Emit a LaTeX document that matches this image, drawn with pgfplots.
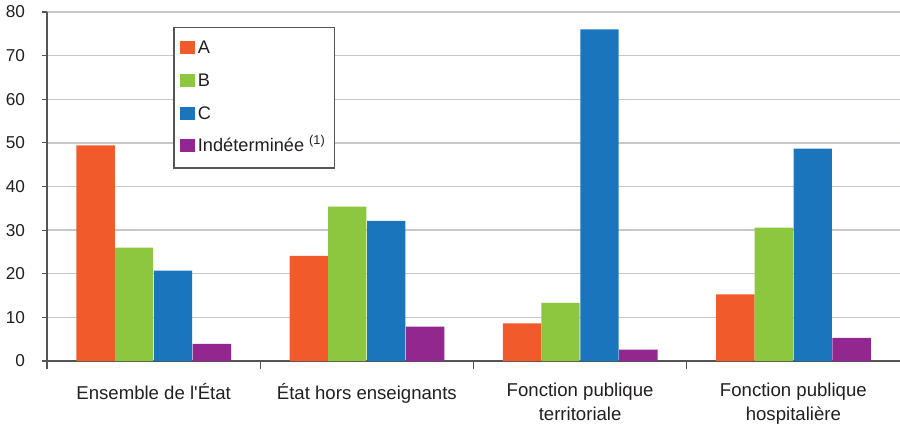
\documentclass[border=0pt]{standalone}
\usepackage{pgfplots}
\pgfplotsset{compat=1.18}
\usepackage{fontspec}
\setmainfont{Liberation Sans}
\definecolor{cA}{HTML}{F15A2B}
\definecolor{cB}{HTML}{8DC63F}
\definecolor{cC}{HTML}{1B75BC}
\definecolor{cD}{HTML}{92278F}
\definecolor{txt}{HTML}{231F20}
\definecolor{gridc}{HTML}{C8C8CC}
\definecolor{axc}{HTML}{555555}
\begin{document}
\begin{tikzpicture}[font=\fontsize{8.6}{10}\selectfont, text=txt]
\begin{axis}[
  scale only axis,
  width=426.5pt, height=174.5pt,
  xmin=-0.5, xmax=3.5,
  ymin=0, ymax=80,
  ytick={0,10,...,80},
  xtick={0,1,2,3},
  xticklabels={Ensemble de l\textquotesingle\'Etat, \'Etat hors enseignants, Fonction publique\\territoriale, Fonction publique\\hospitali\`ere},
  xticklabel style={align=center, yshift=-5pt, font=\fontsize{9.3}{12}\selectfont},
  minor xtick={-0.5,0.5,1.5,2.5},
  major x tick style={draw=none},
  minor x tick style={draw=axc, line width=0.6pt},
  minor tick length=4pt,
  major tick length=2.5pt,
  tick align=outside,
  ytick style={draw=axc, line width=0.6pt},
  yticklabel style={xshift=-5pt},
  /pgf/number format/assume math mode=true,
  axis x line*=bottom,
  axis y line*=left,
  axis line style={draw=axc, line width=0.8pt},
  ymajorgrids,
  grid style={draw=gridc, line width=0.7pt},
  ybar, bar width=0.18,
  every axis plot/.append style={draw=none},
  legend style={at={(0.148,0.957)}, anchor=north west, draw=axc, line width=0.7pt,
    font=\fontsize{9.1}{10}\selectfont, row sep=7.35pt, inner xsep=3pt, inner ysep=6pt,
    cells={anchor=west}, nodes={inner xsep=1.5pt, inner ysep=0pt, text height=7pt, text depth=2pt}},
  legend image code/.code={\fill[#1] (0.5pt,-2.8pt) rectangle (8pt,3.7pt);},
  legend cell align=left,
]
\addplot[fill=cA, bar shift=-0.272] coordinates {(0,49.4) (1,24.1) (2,8.6) (3,15.3)};
\addplot[fill=cB, bar shift=-0.092] coordinates {(0,26.0) (1,35.4) (2,13.3) (3,30.6)};
\addplot[fill=cC, bar shift=0.091] coordinates {(0,20.7) (1,32.1) (2,76.0) (3,48.7)};
\addplot[fill=cD, bar shift=0.273] coordinates {(0,3.9) (1,7.9) (2,2.6) (3,5.3)};
\legend{A, B, C, {Ind\'etermin\'ee \textsuperscript{(1)}}}
\end{axis}
\pgfresetboundingbox
\useasboundingbox (current axis.south west) ++(-23.5pt,-31.5pt) rectangle ++(450pt,212pt);
\end{tikzpicture}
\end{document}
